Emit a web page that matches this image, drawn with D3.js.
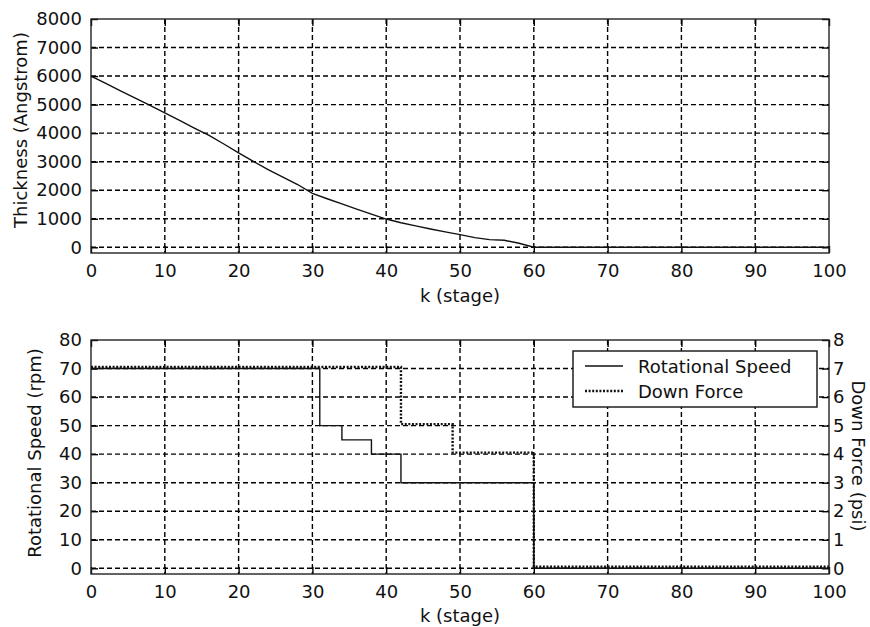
<!DOCTYPE html>
<html>
<head>
<meta charset="utf-8">
<script src="https://cdn.jsdelivr.net/npm/d3@7"></script>
<style>
  html, body { margin: 0; padding: 0; background: #fff; }
  svg { display: block; }
  text { font-family: "DejaVu Sans", sans-serif; font-size: 18px; fill: #111; }
</style>
</head>
<body>
<svg id="chart" width="870" height="627"></svg>
<script>
// ---------- data ----------
const stageTicks = [0, 10, 20, 30, 40, 50, 60, 70, 80, 90, 100];
const thicknessTicks = [0, 1000, 2000, 3000, 4000, 5000, 6000, 7000, 8000];
const speedTicks = [0, 10, 20, 30, 40, 50, 60, 70, 80];
const forceTicks = [0, 1, 2, 3, 4, 5, 6, 7, 8];

// thickness trajectory (Angstrom) vs stage k
const thicknessK = [0, 2, 4, 6, 8, 10, 12, 14, 16, 18, 20, 22, 24, 26, 28, 30, 32, 34, 36, 38, 40,
                    42, 44, 46, 48, 50, 52, 54, 56, 58, 60, 70, 80, 90, 100];
const thicknessVal = [6000, 5740, 5480, 5230, 4970, 4710, 4450, 4180, 3920, 3620, 3310, 3010, 2720, 2460, 2200, 1890,
                      1700, 1520, 1340, 1160, 990, 860, 750, 640, 540, 445, 340, 270, 245, 140, 0, 0, 0, 0, 0];

// step schedules: value holds from k[i] until k[i+1]
const speedK = [0, 31, 34, 38, 42, 60, 100];
const speedVal = [70, 50, 45, 40, 30, 0, 0];
const forceK = [0, 42, 49, 60, 100];
const forceVal = [7, 5, 4, 0, 0];

const legendLabels = ["Rotational Speed", "Down Force"];

// ---------- layout ----------
const svg = d3.select("#chart");
const X0 = 91, X1 = 829;
const TICK = 7;
const GRID_DASH = "5,3";

const x = d3.scaleLinear().domain([0, 100]).range([X0, X1]);

function panel(yTop, yBot, yDomain, yTicks, opts) {
  const g = svg.append("g");
  const y = d3.scaleLinear().domain(yDomain).range([yBot, yTop]);

  // grid
  const grid = g.append("g").attr("stroke", "#000").attr("stroke-width", 1.4)
    .attr("stroke-dasharray", GRID_DASH).attr("fill", "none");
  grid.selectAll("line.gx").data(stageTicks.filter(d => d > 0 && d < 100)).join("line")
    .attr("class", "gx")
    .attr("x1", d => x(d)).attr("x2", d => x(d)).attr("y1", yTop).attr("y2", yBot);
  grid.selectAll("line.gy").data(yTicks.filter(d => y(d) > yTop + 1)).join("line")
    .attr("class", "gy")
    .attr("x1", X0).attr("x2", X1).attr("y1", d => y(d)).attr("y2", d => y(d));

  // axes (ticks inside)
  const axB = d3.axisBottom(x).tickValues(stageTicks).tickSize(-TICK).tickPadding(11).tickFormat(d3.format("d"));
  const axT = d3.axisTop(x).tickValues(stageTicks).tickSize(-TICK).tickFormat("");
  const axL = d3.axisLeft(y).tickValues(yTicks).tickSize(-TICK).tickPadding(9).tickFormat(d3.format("d"));
  g.append("g").attr("transform", `translate(0,${yBot})`).call(axB);
  g.append("g").attr("transform", `translate(0,${yTop})`).call(axT);
  g.append("g").attr("transform", `translate(${X0},0)`).call(axL);
  let yR = null;
  if (opts.right) {
    yR = d3.scaleLinear().domain(opts.right.domain).range([yBot, yTop]);
    const axR = d3.axisRight(yR).tickValues(opts.right.ticks).tickSize(-TICK).tickPadding(4).tickFormat(d3.format("d"));
    g.append("g").attr("transform", `translate(${X1},0)`).call(axR);
  } else {
    const axR = d3.axisRight(y).tickValues(yTicks).tickSize(-TICK).tickFormat("");
    g.append("g").attr("transform", `translate(${X1},0)`).call(axR);
  }
  g.selectAll(".domain").remove();
  g.selectAll(".tick line").attr("stroke", "#000").attr("stroke-width", 1.4);
  g.selectAll(".tick text").attr("font-family", "DejaVu Sans").attr("font-size", 18).attr("fill", "#111");

  // frame
  g.append("rect").attr("x", X0).attr("y", yTop).attr("width", X1 - X0).attr("height", yBot - yTop)
    .attr("fill", "none").attr("stroke", "#222").attr("stroke-width", 1.4);

  return { g, y, yR };
}

// ---------- top panel ----------
const topPanel = panel(19, 253, [-200, 8000], thicknessTicks, {});
const thickData = thicknessK.map((k, i) => [k, thicknessVal[i]]);
topPanel.g.append("path").datum(thickData)
  .attr("fill", "none").attr("stroke", "#111").attr("stroke-width", 1.4)
  .attr("d", d3.line().x(d => x(d[0])).y(d => topPanel.y(d[1])));

svg.append("text").attr("x", (X0 + X1) / 2).attr("y", 302).attr("text-anchor", "middle").text("k (stage)");
svg.append("text").attr("transform", `translate(27,130) rotate(-90)`).attr("text-anchor", "middle")
  .text("Thickness (Angstrom)");

// ---------- bottom panel ----------
const botPanel = panel(340, 574, [-2, 80], speedTicks, { right: { domain: [-0.2, 8], ticks: forceTicks } });
const speedData = speedK.map((k, i) => [k, speedVal[i]]);
const forceData = forceK.map((k, i) => [k, forceVal[i]]);
const stepLine = (ys) => d3.line().curve(d3.curveStepAfter).x(d => x(d[0])).y(d => ys(d[1]));

botPanel.g.append("path").datum(speedData)
  .attr("fill", "none").attr("stroke", "#111").attr("stroke-width", 1.4)
  .attr("d", stepLine(botPanel.y));
botPanel.g.append("path").datum(forceData)
  .attr("fill", "none").attr("stroke", "#111").attr("stroke-width", 2.4).attr("stroke-dasharray", "2,1.6")
  .attr("transform", "translate(0,-1.5)")
  .attr("d", stepLine(botPanel.yR));

svg.append("text").attr("x", (X0 + X1) / 2).attr("y", 622).attr("text-anchor", "middle").text("k (stage)");
svg.append("text").attr("transform", `translate(41,453) rotate(-90)`).attr("text-anchor", "middle")
  .text("Rotational Speed (rpm)");
svg.append("text").attr("transform", `translate(852,456) rotate(90)`).attr("text-anchor", "middle")
  .text("Down Force (psi)");

// legend
const lg = svg.append("g");
lg.append("rect").attr("x", 573).attr("y", 351).attr("width", 244).attr("height", 56)
  .attr("fill", "#fff").attr("stroke", "#111").attr("stroke-width", 1.4);
const legendStyles = [{ w: 1.4, dash: null }, { w: 2.4, dash: "2,1.6" }];
legendLabels.forEach((lab, i) => {
  const yy = 366 + i * 25;
  lg.append("line").attr("x1", 585).attr("x2", 623).attr("y1", yy).attr("y2", yy)
    .attr("stroke", "#111").attr("stroke-width", legendStyles[i].w)
    .attr("stroke-dasharray", legendStyles[i].dash);
  lg.append("text").attr("x", 638).attr("y", yy + 7).text(lab);
});
</script>
</body>
</html>
